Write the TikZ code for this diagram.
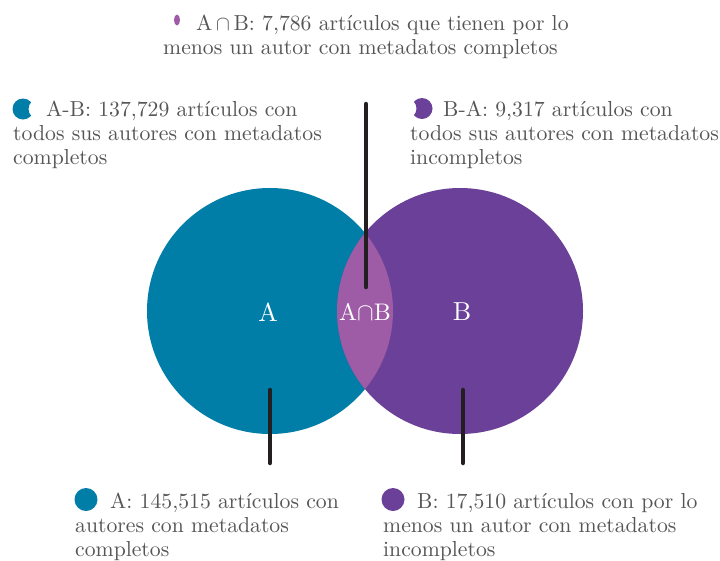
\documentclass[tikz,border=0pt]{standalone}
\usepackage{fontspec}
\setmainfont{lmroman10-regular}[Extension=.otf]
\usepackage{xcolor}
\definecolor{setA}{RGB}{0,126,168}
\definecolor{setB}{RGB}{107,64,152}
\definecolor{setAB}{RGB}{157,92,165}
\definecolor{gray1}{RGB}{85,85,85}
\definecolor{stickc}{RGB}{35,31,32}

\begin{document}
\begin{tikzpicture}[x=1pt,y=-1pt]
\tikzstyle{note} = [anchor=base west, inner sep=0pt, align=left, text=gray1, font=\fontsize{21.7}{24}\selectfont];
\tikzstyle{setname} = [inner sep=0pt, text=white, font=\fontsize{26}{28}\selectfont];
\tikzstyle{stick} = [line width=4.5pt, line cap=round, color=stickc];

\useasboundingbox (0,0) rectangle (720,560);

\fill [setA] (270,311) circle (123pt);
\fill [setB] (460,311) circle (123pt);
\begin{scope}
\clip (270,311) circle (123pt);
\fill [setAB] (460,311) circle (123pt);
\end{scope}

\node [setname] (nameA) at (268,312) {A};
\node [setname] (nameB) at (462,312) {B};
\node [setname, font=\fontsize{24}{26}\selectfont] (nameAB) at (365,312) {A$\cap$B};

\coordinate (topS) at (366,104);
\coordinate (topE) at (366,287);
\coordinate (leftS) at (270,390);
\coordinate (leftE) at (270,463);
\coordinate (rightS) at (463,390);
\coordinate (rightE) at (463,463);
\draw [stick] (topS) -- (topE);
\draw [stick] (leftS) -- (leftE);
\draw [stick] (rightS) -- (rightE);

\fill [setAB] (177,20) ellipse (3pt and 5.5pt);
\begin{scope}[even odd rule]
\clip (0,90) rectangle (60,130) (39,109) circle (10.5pt);
\fill [setA] (23,109) circle (10.5pt);
\end{scope}
\begin{scope}[even odd rule]
\clip (400,90) rectangle (440,130) (406,108.5) circle (10.5pt);
\fill [setB] (422,108.5) circle (10.5pt);
\end{scope}
\fill [setA] (86,499.5) circle (11.5pt);
\fill [setB] (393,499.5) circle (11.5pt);

% base anchor sits on the last line
\node [note] (txtI) at (163,54) {\hspace*{33pt}A\,$\cap$\,B: 7,786 artículos que tienen por lo\\menos un autor con metadatos completos};
\node [note] (txtAmB) at (13,164) {\hspace*{33pt}A-B: 137,729 artículos con\\todos sus autores con metadatos\\completos};
\node [note] (txtBmA) at (410,164) {\hspace*{33pt}B-A: 9,317 artículos con\\todos sus autores con metadatos\\incompletos};
\node [note] (txtA) at (75,556) {\hspace*{35pt}A: 145,515 artículos con\\autores con metadatos\\completos};
\node [note] (txtB) at (383,556) {\hspace*{34pt}B: 17,510 artículos con por lo\\menos un autor con metadatos\\incompletos};
\end{tikzpicture}
\end{document}
